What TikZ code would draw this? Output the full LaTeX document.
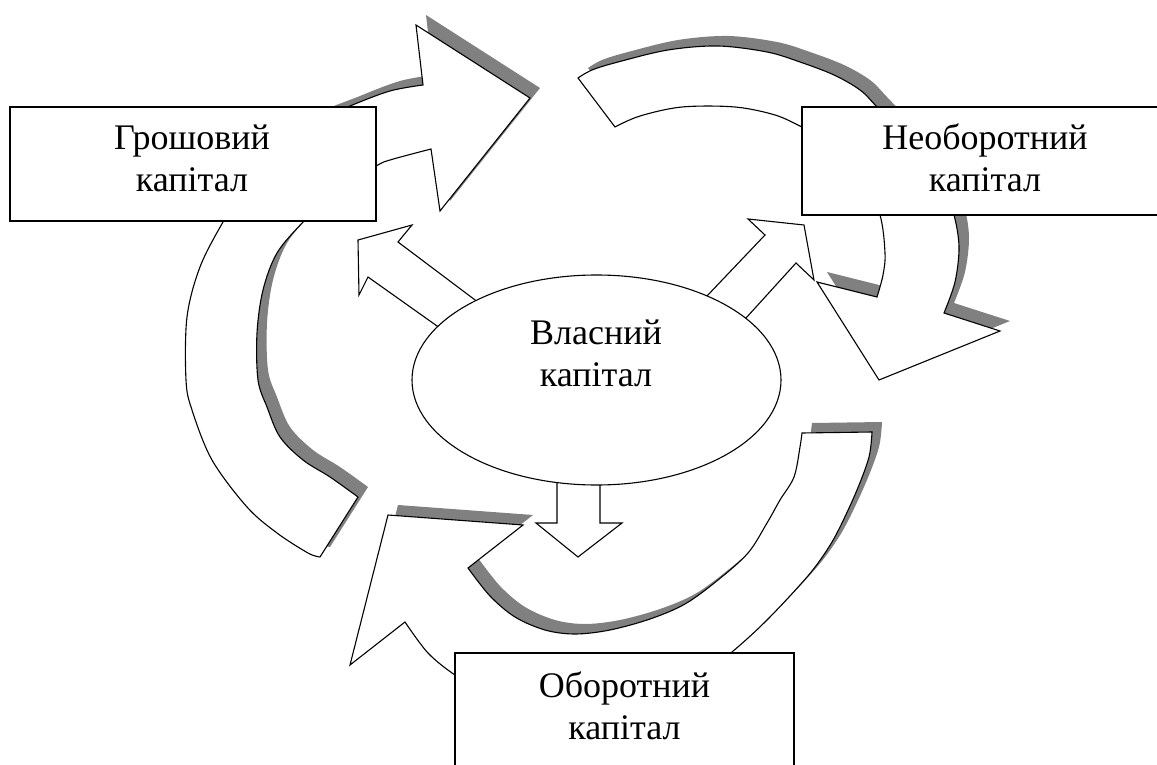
\documentclass[tikz,border=0pt]{standalone}
\usepackage{fontspec}
\setmainfont{Liberation Serif}
\usetikzlibrary{shapes.geometric}
\definecolor{shadowgray}{RGB}{128,128,128}
\newcommand\pathGr{(320,557) -- plot[smooth,tension=0.55] coordinates {(320,557) (308,553) (277,533) (247,507) (212,460) (192,410) (186,380) (187,317) (200,267) (223,222) (255,170) (300,128) (350,106) (390,91) (423,85)} -- (416,25) -- (530,98) -- (440,211) -- (431,149) -- plot[smooth,tension=0.55] coordinates {(431,149) (390,160) (376,166) (335,190) (303,222) (277,253) (263,290) (257,333) (258,380) (267,407) (280,437) (303,460) (330,477) (358,497)} -- cycle}
\newcommand\pathNe{(578,78) -- plot[smooth,tension=0.55] coordinates {(578,78) (592,70) (618,62) (668,50) (718,46) (767,52) (800,62) (834,75) (860,90) (877,107) (915,148) (943,185) (954,215) (959,247) (955,282) (944,313)} -- (1000,331) -- (879,380) -- (817,282) -- (877,297) -- plot[smooth,tension=0.55] coordinates {(877,297) (883,275) (885,253) (880,215) (862,172) (835,143) (802,127) (775,115) (735,107) (682,107) (640,116) (615,127)} -- cycle}
\newcommand\pathOb{(802,433) -- (872,432) -- plot[smooth,tension=0.55] coordinates {(872,432) (869,457) (857,490) (840,527) (827,550) (807,577) (767,620) (732,652) (690,685) (620,705) (540,702) (480,688) (455,675) (428,653) (405,622)} -- (350,665) -- (388,515) -- (523,525) -- (468,568) -- plot[smooth,tension=0.55] coordinates {(468,568) (490,596) (515,617) (545,630) (575,634) (610,630) (650,619) (685,604) (718,580) (748,553) (767,523) (780,500) (794,477) (800,447) (802,433)} -- cycle}
\begin{document}
\begin{tikzpicture}[x=1pt,y=-1pt,
  shadowst/.style={fill=shadowgray, shift={(10,-10)}},
  bigarrow/.style={draw=black, fill=white, line width=1.1pt, line join=miter},
  smallarrow/.style={draw=black, fill=white, line width=1.1pt, line join=miter},
  boxst/.style={draw=black, fill=white, line width=1.5pt, rectangle, inner sep=0pt},
  ellst/.style={draw=black, fill=white, line width=1.1pt, ellipse, inner sep=0pt},
  lbl/.style={align=center, inner sep=0pt, font=\fontsize{36}{42}\selectfont}]
\useasboundingbox (0,0) rectangle (1157,765);
\clip (0,0) rectangle (1157,765);
% shadows of the curved arrows
\fill[shadowst] \pathGr;
\fill[shadowst] \pathNe;
\fill[shadowst] \pathOb;
% curved arrows
\filldraw[bigarrow] \pathGr;
\filldraw[bigarrow] \pathNe;
\filldraw[bigarrow] \pathOb;
% small straight arrows from the ellipse
\filldraw[smallarrow] (499,318) -- (398,242) -- (412,225) -- (358,240) -- (359,295) -- (368,277) -- (461,343) -- cycle;
\filldraw[smallarrow] (687,317) -- (765,235) -- (748,219) -- (804,225) -- (814,280) -- (796,263) -- (726,340) -- cycle;
\filldraw[smallarrow] (557,460) -- (557,523) -- (536,523) -- (578,557) -- (622,523) -- (600,523) -- (600,460) -- cycle;
% central ellipse
\node[ellst, minimum width=369pt, minimum height=210pt] (vk) at (596.5,380) {};
\node[lbl] (vkt) at (596,353.7) {Власний\\капітал};
% boxes
\node[boxst, minimum width=366pt, minimum height=114pt] (gr) at (193,164) {};
\node[lbl] (grt) at (192,158.7) {Грошовий\\капітал};
\node[boxst, minimum width=366pt, minimum height=108pt] (ne) at (985,161) {};
\node[lbl] (net) at (985,157.7) {Необоротний\\капітал};
\node[boxst, minimum width=339pt, minimum height=118pt] (ob) at (624.5,712) {};
\node[lbl] (obt) at (624.5,706) {Оборотний\\капітал};
\end{tikzpicture}
\end{document}
